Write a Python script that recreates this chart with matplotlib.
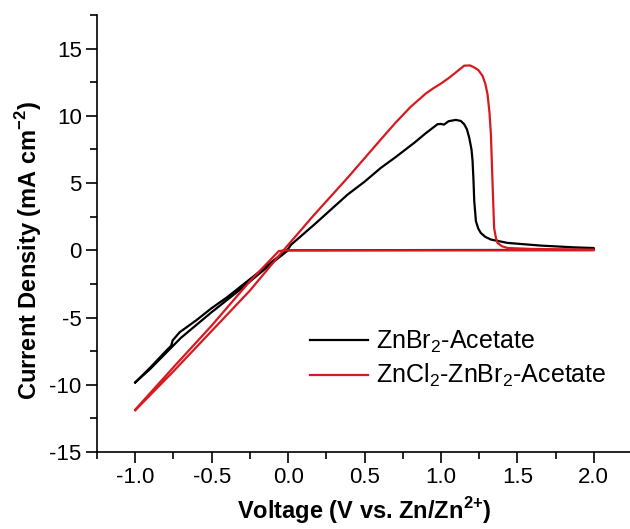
import matplotlib
matplotlib.use('Agg')
import matplotlib.pyplot as plt
from matplotlib.ticker import MultipleLocator

plt.rcParams['font.family'] = ['Liberation Sans', 'DejaVu Sans']
plt.rcParams['mathtext.fontset'] = 'custom'
plt.rcParams['mathtext.rm'] = 'Liberation Sans'
plt.rcParams['mathtext.bf'] = 'Liberation Sans:bold'
plt.rcParams['axes.unicode_minus'] = False

# ZnBr2-Acetate, full cycle starting at -1.0 V
v_br = [-1.0, -0.9, -0.8, -0.765, -0.755, -0.71, -0.6, -0.5, -0.4, -0.3, -0.2, -0.1, 0.0,
        0.02, 0.172, 0.39, 0.5, 0.608, 0.7, 0.826, 0.9, 0.978, 1.0, 1.02, 1.05, 1.098,
        1.13, 1.152, 1.17, 1.185, 1.2, 1.207, 1.213, 1.218, 1.229, 1.245, 1.261, 1.29,
        1.327, 1.436, 1.654, 1.87, 2.0,
        2.0, 1.0, 0.0, -0.1, -0.3, -0.5, -0.7, -0.9, -1.0]
j_br = [-9.83, -8.7, -7.5, -7.1, -6.7, -6.1, -5.2, -4.3, -3.5, -2.6, -1.7, -0.8, 0.1,
        0.42, 1.92, 4.15, 5.1, 6.14, 6.9, 8.0, 8.7, 9.38, 9.4, 9.35, 9.6, 9.7,
        9.62, 9.38, 9.0, 8.38, 7.5, 6.64, 5.2, 3.66, 2.16, 1.6, 1.29, 1.0,
        0.8, 0.55, 0.35, 0.22, 0.17,
        0.03, 0.02, 0.0, -0.9, -2.8, -4.6, -6.5, -8.8, -9.83]

# ZnCl2-ZnBr2-Acetate
v_cl = [-1.0, -0.75, -0.5, -0.25, -0.03, 0.172, 0.39, 0.608, 0.7, 0.8, 0.9, 0.95,
        1.0, 1.05, 1.1, 1.152, 1.19, 1.218, 1.245, 1.272, 1.29, 1.305, 1.318, 1.327,
        1.338, 1.348, 1.36, 1.37, 1.4, 1.436, 1.6, 2.0,
        2.0, 1.0, 0.0, -0.06, -0.25, -0.5, -0.75, -1.0]
j_cl = [-11.9, -9.0, -6.0, -3.0, 0.0, 2.66, 5.4, 8.26, 9.45, 10.65, 11.65, 12.05,
        12.4, 12.8, 13.25, 13.73, 13.75, 13.6, 13.4, 12.98, 12.4, 11.6, 10.2, 8.6,
        4.9, 1.66, 0.9, 0.55, 0.3, 0.17, 0.1, 0.05,
        0.0, 0.0, 0.0, -0.05, -2.3, -5.6, -8.7, -11.85]

labels = ['ZnBr$_2$-Acetate', 'ZnCl$_2$-ZnBr$_2$-Acetate']

fig = plt.figure(figsize=(6.3, 5.29), dpi=100)
ax = fig.add_axes([97 / 630, 1 - 452 / 529, 535 / 630, 437 / 529])

ax.plot(v_br, j_br, color='black', lw=1.6, label=labels[0])
ax.plot(v_cl, j_cl, color='#d71920', lw=1.6, label=labels[1])

ax.set_xlim(-1.25, 2.25)
ax.set_ylim(-15, 17.5)
ax.xaxis.set_minor_locator(MultipleLocator(0.25))
ax.yaxis.set_minor_locator(MultipleLocator(2.5))
ax.set_xticks([-1.0, -0.5, 0.0, 0.5, 1.0, 1.5, 2.0])
ax.set_yticks([-15, -10, -5, 0, 5, 10, 15])

for s in ['top', 'right']:
    ax.spines[s].set_visible(False)
for s in ['left', 'bottom']:
    ax.spines[s].set_linewidth(1.2)
ax.tick_params(which='major', direction='out', length=8, width=1.2, labelsize=16, pad=3)
ax.tick_params(which='minor', direction='out', length=5, width=1.2)

ax.set_xlabel('Voltage (V vs. Zn/Zn$^{\\mathbf{2{+}}}$)', fontsize=17, fontweight='bold', labelpad=5)
ax.set_ylabel('Current Density (mA cm$^{\\mathbf{{-}2}}$)', fontsize=17, fontweight='bold')
ax.yaxis.set_label_coords(-0.099, 15 / 32.5)

ax.legend(loc='center left', bbox_to_anchor=(310 / 630, 1 - 359 / 529),
          bbox_transform=fig.transFigure, frameon=False, fontsize=18,
          handlelength=2.3, handletextpad=0.35, labelspacing=0.3,
          borderpad=0, borderaxespad=0)

fig.savefig('out.png', dpi=100)
